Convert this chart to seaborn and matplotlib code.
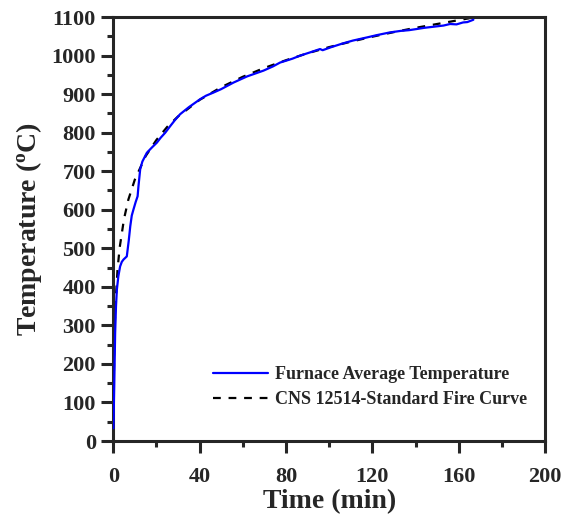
import numpy as np
import pandas as pd
import seaborn as sns
import matplotlib.pyplot as plt
from matplotlib.ticker import MultipleLocator

# furnace average temperature
furnace_time = [0.1, 0.5, 0.9, 1.3, 1.7, 2.4, 3.2, 4.0, 4.8, 6.3, 7.2, 7.9, 8.6, 9.4, 10.4,
                11.3, 11.7, 12.5, 13.5, 15.6, 18.0, 20.2, 22.0, 24.1, 26.4, 28.5, 31.0, 35.0,
                40.3, 43.0, 46.4, 50.0, 55.7, 62.0, 69.6, 74.0, 77.3, 79.6, 83.0, 86.6, 91.0,
                95.8, 97.0, 101.0, 106.0, 111.0, 117.4, 122.0, 128.0, 133.0, 137.0, 140.6,
                144.0, 147.0, 150.0, 153.0, 156.0, 159.0, 162.0, 164.0, 166.8]
furnace_temp = [33, 150, 280, 350, 393, 428, 453, 465, 471, 479, 520, 557, 585, 601, 620,
                635, 661, 705, 725, 748, 762, 774, 787, 800, 817, 832, 848, 866,
                887, 896, 904, 913, 930, 946, 961, 972, 982, 986, 992, 1000, 1008,
                1017, 1014, 1022, 1031, 1039, 1047, 1053, 1060, 1064, 1066, 1069,
                1072, 1074, 1076, 1078, 1082, 1081, 1086, 1087, 1093]

# CNS 12514 standard fire curve
cns_time = [0, 0.5, 1, 2, 3, 5, 7, 10, 15, 20, 25, 30, 40, 50, 60, 70, 80, 90,
            100, 110, 120, 130, 140, 150, 160, 165]
cns_temp = [20, 261, 349, 445, 502, 576, 626, 678, 739, 781, 815, 842, 885, 918, 945,
            968, 988, 1006, 1022, 1036, 1049, 1061, 1072, 1082, 1092, 1097]

sns.set_style("ticks")
plt.rcParams['font.family'] = ['Liberation Serif', 'DejaVu Serif']
plt.rcParams['font.weight'] = 'bold'
plt.rcParams['mathtext.fontset'] = 'custom'
plt.rcParams['mathtext.rm'] = 'Liberation Serif:bold'
plt.rcParams['mathtext.bf'] = 'Liberation Serif:bold'
plt.rcParams['mathtext.it'] = 'Liberation Serif:bold'

df_furnace = pd.DataFrame({'Time': furnace_time, 'Temp': furnace_temp})
df_cns = pd.DataFrame({'Time': cns_time, 'Temp': cns_temp})

fig = plt.figure(figsize=(5.66, 5.17), dpi=100)
ax = fig.add_axes([0.2, 0.147, 0.763, 0.82])

sns.lineplot(data=df_furnace, x='Time', y='Temp', ax=ax, color='#0000ff', lw=1.6,
             label='Furnace Average Temperature', zorder=3)
sns.lineplot(data=df_cns, x='Time', y='Temp', ax=ax, color='black', lw=1.6,
             linestyle=(0, (3.5, 3.5)), label='CNS 12514-Standard Fire Curve', zorder=2)

ax.set_xlim(0, 200)
ax.set_ylim(0, 1100)
ax.xaxis.set_major_locator(MultipleLocator(40))
ax.xaxis.set_minor_locator(MultipleLocator(20))
ax.yaxis.set_major_locator(MultipleLocator(100))
ax.yaxis.set_minor_locator(MultipleLocator(50))

for s in ax.spines.values():
    s.set_linewidth(2.2)
    s.set_visible(True)
ax.tick_params(which='major', direction='out', length=8.5, width=2.2, labelsize=16)
ax.tick_params(which='minor', direction='out', length=4.5, width=2.2)
ax.tick_params(axis='x', which='major', pad=10)
ax.tick_params(axis='y', which='major', pad=4)
for lab in ax.get_xticklabels() + ax.get_yticklabels():
    lab.set_fontweight('bold')

ax.set_xlabel('Time (min)', fontsize=20, fontweight='bold', labelpad=2)
ax.set_ylabel(r'Temperature ($^{\mathrm{o}}$C)', fontsize=20, fontweight='bold', labelpad=5)

leg = ax.legend(loc='lower right', bbox_to_anchor=(0.958, 0.077), frameon=False,
                borderaxespad=0, borderpad=0,
                prop={'size': 13, 'weight': 'bold'}, handlelength=3.1, handletextpad=0.35,
                labelspacing=0.45)

fig.savefig('out.png', dpi=100)
